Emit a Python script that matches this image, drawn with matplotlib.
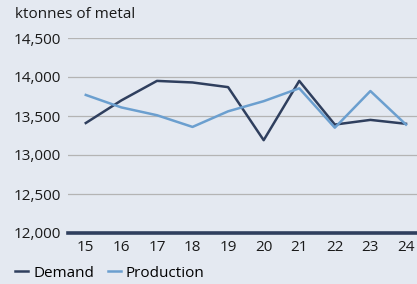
import matplotlib.pyplot as plt

years = [15, 16, 17, 18, 19, 20, 21, 22, 23, 24]
demand = [13410, 13700, 13950, 13930, 13870, 13190, 13950, 13390, 13450, 13400]
production = [13770, 13610, 13510, 13360, 13560, 13690, 13855, 13350, 13820, 13390]
yticks = [12000, 12500, 13000, 13500, 14000, 14500]

bg = '#e4e9f1'
dark = '#2f3f5e'
light = '#6b9fcf'

plt.rcParams['font.family'] = ['Open Sans', 'DejaVu Sans']

fig = plt.figure(figsize=(4.17, 2.84), dpi=100, facecolor=bg)
ax = fig.add_axes([68 / 417, 1 - 233 / 284, 1 - 68 / 417, (233 - 38) / 284])
ax.set_facecolor(bg)

ax.plot(years, demand, color=dark, lw=1.8, label='Demand')
ax.plot(years, production, color=light, lw=1.8, label='Production')

ax.set_xlim(14.5, 24.31)
ax.set_ylim(12000, 14500)
ax.set_yticks(yticks)
ax.set_yticklabels(['{:,}'.format(v) for v in yticks])
ax.set_xticks(years)
ax.grid(axis='y', color='#b4b4b4', lw=0.9)
ax.set_axisbelow(True)
for s in ['top', 'right', 'left']:
    ax.spines[s].set_visible(False)
ax.spines['bottom'].set_color(dark)
ax.spines['bottom'].set_linewidth(2.6)
ax.tick_params(length=0, labelsize=11, colors='#1a1a1a')
ax.tick_params(axis='y', pad=5)
ax.tick_params(axis='x', pad=5)

fig.text(15 / 417, 1 - 14 / 284, 'ktonnes of metal', fontsize=11, va='center', ha='left', color='#1a1a1a')

fig.legend(loc='lower left', bbox_to_anchor=(0.014, -0.02), ncol=2, frameon=False,
           fontsize=11, handlelength=0.85, handletextpad=0.33, columnspacing=0.9,
           borderaxespad=0.2)

fig.savefig('out.png', dpi=100, facecolor=bg)
